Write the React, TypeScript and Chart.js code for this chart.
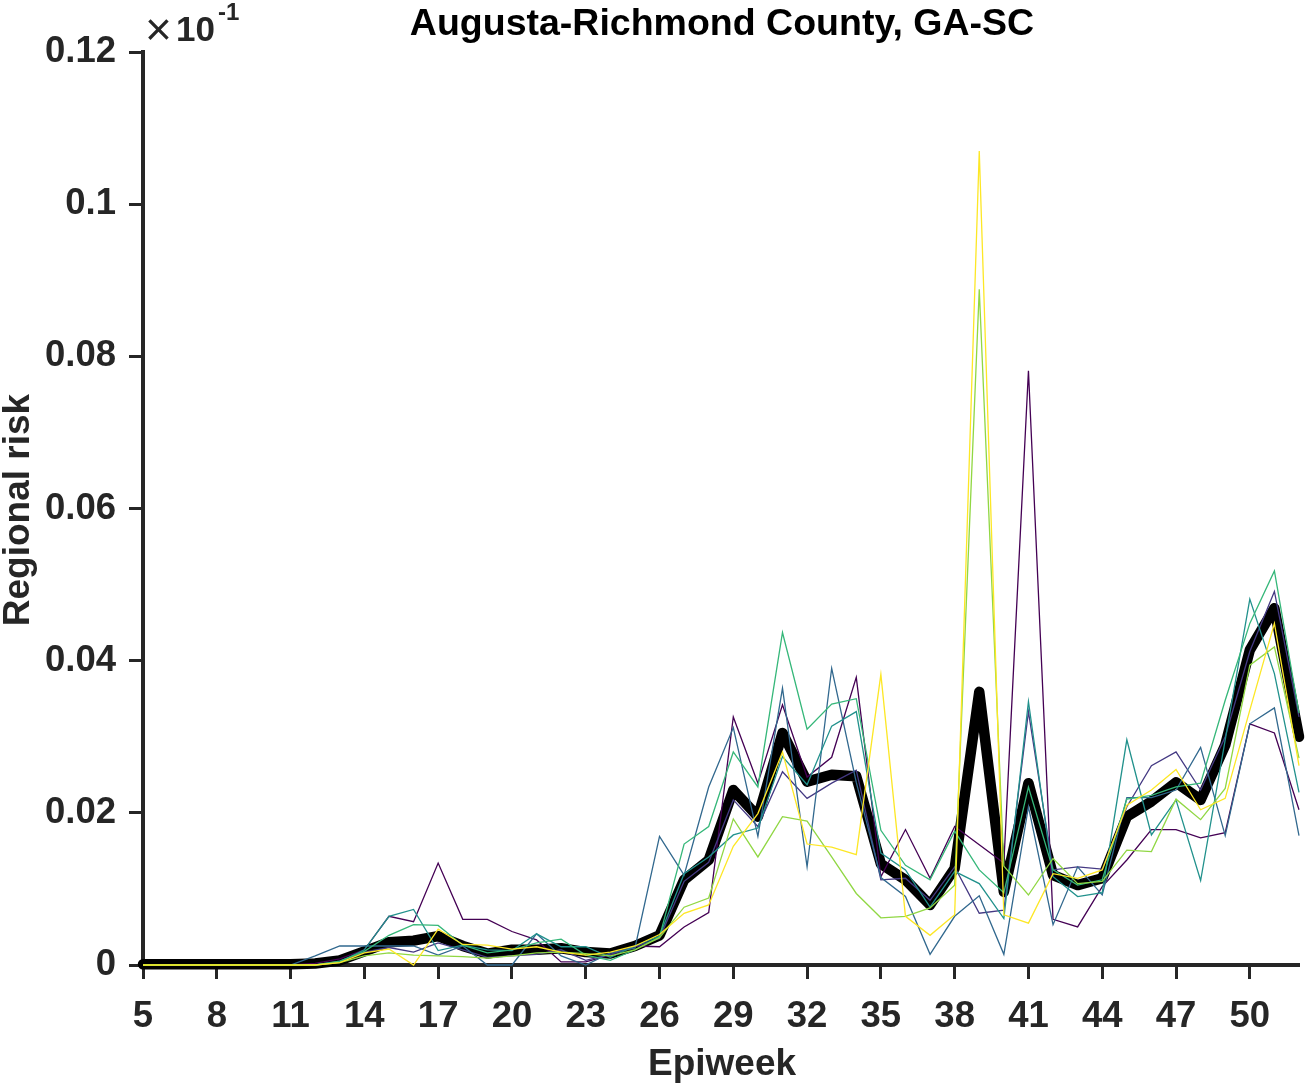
import React, { useEffect, useRef } from "react";
import { Chart, registerables } from "chart.js";

Chart.register(...registerables);

const WEEKS = [5, 6, 7, 8, 9, 10, 11, 12, 13, 14, 15, 16, 17, 18, 19, 20, 21, 22, 23, 24, 25, 26, 27, 28, 29, 30, 31, 32, 33, 34, 35, 36, 37, 38, 39, 40, 41, 42, 43, 44, 45, 46, 47, 48, 49, 50, 51, 52];
const X_TICKS = [5, 8, 11, 14, 17, 20, 23, 26, 29, 32, 35, 38, 41, 44, 47, 50];
const Y_TICKS = [0, 0.02, 0.04, 0.06, 0.08, 0.1, 0.12];

const TITLE = "Augusta-Richmond County, GA-SC";
const X_LABEL = "Epiweek";
const Y_LABEL = "Regional risk";

const PURPLE = [0, 0, 0, 0, 0, 0, 0, 0.0002, 0.0008, 0.002, 0.0064, 0.0057, 0.0134, 0.006, 0.006, 0.0044, 0.0033, 0.0004, 0.0004, 0.0013, 0.0025, 0.0024, 0.005, 0.0069, 0.0326, 0.0239, 0.0342, 0.0247, 0.0273, 0.0378, 0.0116, 0.0178, 0.0114, 0.0182, 0.0158, 0.0134, 0.0781, 0.006, 0.005, 0.0103, 0.0138, 0.0178, 0.0178, 0.0167, 0.0174, 0.0317, 0.0305, 0.0204];
const INDIGO = [0, 0, 0, 0, 0, 0, 0, 0, 0.0005, 0.0017, 0.0023, 0.0017, 0.0029, 0.002, 0.001, 0.0012, 0.0014, 0.002, 0.0006, 0.0014, 0.0024, 0.0035, 0.011, 0.0135, 0.0217, 0.0182, 0.0254, 0.0219, 0.0239, 0.0256, 0.0112, 0.0114, 0.0085, 0.0129, 0.0068, 0.0072, 0.0333, 0.0125, 0.0129, 0.0126, 0.0208, 0.0262, 0.028, 0.023, 0.03, 0.0412, 0.0491, 0.0326];
const BLUE = [0, 0, 0, 0, 0, 0, 0, 0.0012, 0.0025, 0.0025, 0.0025, 0.0025, 0.0013, 0.0025, 0, 0, 0.0041, 0.0012, 0, 0.0016, 0.0022, 0.0169, 0.0118, 0.0234, 0.0312, 0.0169, 0.0364, 0.0129, 0.039, 0.024, 0.0115, 0.009, 0.0014, 0.0064, 0.0091, 0.0014, 0.0208, 0.0053, 0.0129, 0.0092, 0.022, 0.022, 0.023, 0.0286, 0.017, 0.0317, 0.0338, 0.017];
const TEAL = [0, 0, 0, 0, 0, 0, 0, 0, 0.0004, 0.002, 0.0064, 0.0073, 0.0019, 0.0026, 0.002, 0.0019, 0.0041, 0.0024, 0.0024, 0.001, 0.0025, 0.0038, 0.012, 0.0142, 0.0171, 0.018, 0.0274, 0.0237, 0.0314, 0.0333, 0.0147, 0.0125, 0.0076, 0.0123, 0.0107, 0.0061, 0.0346, 0.0116, 0.009, 0.0095, 0.0296, 0.0171, 0.0217, 0.0111, 0.0296, 0.0481, 0.0383, 0.0227];
const GREEN = [0, 0, 0, 0, 0, 0, 0, 0, 0.0005, 0.0018, 0.0039, 0.0053, 0.0052, 0.0026, 0.0016, 0.002, 0.0029, 0.0034, 0.0013, 0.0006, 0.002, 0.0037, 0.0159, 0.0182, 0.028, 0.0234, 0.0437, 0.031, 0.0343, 0.035, 0.0177, 0.0131, 0.0112, 0.0176, 0.0125, 0.0095, 0.0234, 0.0125, 0.0105, 0.0112, 0.0218, 0.0223, 0.0234, 0.0239, 0.0348, 0.0449, 0.0518, 0.0331];
const LIGHTGREEN = [0, 0, 0, 0, 0, 0, 0, 0, 0.0003, 0.0012, 0.0016, 0.0013, 0.0012, 0.0011, 0.0009, 0.0012, 0.0016, 0.0017, 0.0015, 0.0012, 0.002, 0.0036, 0.0076, 0.0088, 0.0192, 0.0142, 0.0195, 0.0189, 0.0142, 0.0094, 0.0062, 0.0064, 0.0075, 0.0105, 0.0888, 0.013, 0.0092, 0.014, 0.0107, 0.011, 0.0151, 0.0149, 0.0218, 0.0191, 0.0232, 0.0394, 0.0418, 0.0272];
const YELLOW = [0, 0, 0, 0, 0, 0, 0, 0, 0.0003, 0.0016, 0.0021, 0, 0.0047, 0.0027, 0.0026, 0.0021, 0.0024, 0.0017, 0.0013, 0.0017, 0.0025, 0.004, 0.0068, 0.0079, 0.0156, 0.0199, 0.028, 0.0159, 0.0155, 0.0145, 0.0382, 0.0064, 0.0039, 0.0066, 0.107, 0.0066, 0.0055, 0.012, 0.0114, 0.0125, 0.021, 0.023, 0.0257, 0.0204, 0.0219, 0.0335, 0.0449, 0.0262];
const MEAN = [0.0001, 0.0001, 0.0001, 0.0001, 0.0001, 0.0001, 0.0001, 0.0002, 0.0006, 0.0018, 0.003, 0.0032, 0.0038, 0.0025, 0.0015, 0.002, 0.002, 0.0022, 0.0017, 0.0015, 0.0025, 0.0039, 0.0112, 0.0138, 0.023, 0.0195, 0.0305, 0.0241, 0.025, 0.0248, 0.0133, 0.0112, 0.0079, 0.0127, 0.0359, 0.0096, 0.0239, 0.0118, 0.0105, 0.0114, 0.0195, 0.0215, 0.024, 0.0217, 0.0289, 0.0414, 0.0469, 0.03];

const FONT = "'Liberation Sans', Arial, Helvetica, sans-serif";
const AXIS_COLOR = "#262626";

const toPoints = (vals: number[]) => WEEKS.map((w, i) => ({ x: w, y: vals[i] }));

const thin = (label: string, vals: number[], color: string) => ({
  label,
  data: toPoints(vals),
  borderColor: color,
  backgroundColor: color,
  borderWidth: 1.3,
  pointRadius: 0,
  tension: 0,
  clip: false as any,
});

const textPlugin = {
  id: "matlabText",
  afterDraw(chart: any) {
    const ctx = chart.ctx as CanvasRenderingContext2D;
    ctx.save();
    // title
    ctx.fillStyle = "#000";
    ctx.font = `bold 37.5px ${FONT}`;
    ctx.textAlign = "center";
    ctx.textBaseline = "alphabetic";
    ctx.fillText(TITLE, 722, 35);
    // x label
    ctx.fillStyle = AXIS_COLOR;
    ctx.font = `bold 37px ${FONT}`;
    ctx.fillText(X_LABEL, 722, 1075);
    // y label
    ctx.save();
    ctx.translate(29, 510);
    ctx.rotate(-Math.PI / 2);
    ctx.fillText(Y_LABEL, 0, 0);
    ctx.restore();
    // exponent
    ctx.textAlign = "left";
    ctx.font = `46px ${FONT}`;
    ctx.fillText("\u00d7", 145, 45);
    ctx.font = `bold 35px ${FONT}`;
    ctx.fillText("10", 176, 41);
    ctx.font = `bold 24px ${FONT}`;
    ctx.fillText("-1", 218, 20);
    ctx.restore();
  },
};

export default function App() {
  const ref = useRef<HTMLCanvasElement | null>(null);
  useEffect(() => {
    if (!ref.current) return;
    const chart = new Chart(ref.current, {
      type: "line",
      data: {
        datasets: [
          thin("s7", YELLOW, "#fde725"),
          thin("s6", LIGHTGREEN, "#90d743"),
          thin("s5", GREEN, "#35b779"),
          thin("s4", TEAL, "#21918c"),
          thin("s3", BLUE, "#31688e"),
          thin("s2", INDIGO, "#443983"),
          thin("s1", PURPLE, "#440154"),
          {
            label: "mean",
            data: toPoints(MEAN),
            borderColor: "#000",
            backgroundColor: "#000",
            borderWidth: 10.5,
            pointRadius: 0,
            tension: 0,
            borderJoinStyle: "round",
            borderCapStyle: "round",
            clip: false as any,
          },
        ],
      },
      options: {
        responsive: false,
        animation: false,
        layout: { padding: { top: 52, right: 11, left: 0, bottom: 0 } },
        plugins: { legend: { display: false }, tooltip: { enabled: false }, title: { display: false } },
        scales: {
          x: {
            type: "linear",
            min: 5,
            max: 52,
            afterFit: (s: any) => { s.height = 121; },
            afterBuildTicks: (s: any) => { s.ticks = X_TICKS.map((v) => ({ value: v })); },
            border: { display: true, color: AXIS_COLOR, width: 4 },
            grid: { display: true, drawOnChartArea: false, drawTicks: true, tickLength: 14, tickWidth: 3, tickColor: AXIS_COLOR, color: AXIS_COLOR },
            ticks: { color: AXIS_COLOR, padding: 16, maxRotation: 0, autoSkip: false, font: { family: FONT, size: 36.5, weight: "bold" }, callback: (v: any) => String(v) },
          },
          y: {
            type: "linear",
            min: 0,
            max: 0.12,
            afterFit: (s: any) => { s.width = 143; },
            afterBuildTicks: (s: any) => { s.ticks = Y_TICKS.map((v) => ({ value: v })); },
            border: { display: true, color: AXIS_COLOR, width: 4 },
            grid: { display: true, drawOnChartArea: false, drawTicks: true, tickLength: 14, tickWidth: 3, tickColor: AXIS_COLOR, color: AXIS_COLOR },
            ticks: { color: AXIS_COLOR, padding: 13, autoSkip: false, font: { family: FONT, size: 36.5, weight: "bold" }, callback: (v: any) => String(+Number(v).toFixed(2)) },
          },
        },
      } as any,
      plugins: [textPlugin],
    });
    return () => chart.destroy();
  }, []);
  return (
    <div style={{ position: "absolute", left: 0, top: 0, width: 1310, height: 1086, background: "#fff" }}>
      <canvas ref={ref} width={1310} height={1086} />
    </div>
  );
}
